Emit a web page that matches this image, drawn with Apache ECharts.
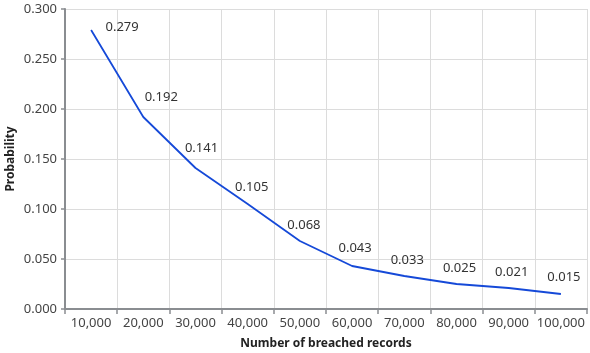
<!DOCTYPE html>
<html><head><meta charset="utf-8">
<script src="https://cdn.jsdelivr.net/npm/echarts@6/dist/echarts.min.js"></script>
<style>html,body{margin:0;padding:0;background:#fff}#c{width:590px;height:353px}</style>
</head><body><div id="c"></div>
<script>
const categories = ['10,000','20,000','30,000','40,000','50,000','60,000','70,000','80,000','90,000','100,000'];
const probability = [0.279,0.192,0.141,0.105,0.068,0.043,0.033,0.025,0.021,0.015];
const labelOffsets = [[31,4],[18,-13],[6,-13],[4,-10],[4,-9],[3,-11],[3,-9],[3,-9],[3,-9],[3,-10]];
const FONT = 'Noto Sans';
const chart = echarts.init(document.getElementById('c'));
chart.setOption({
  animation:false,
  grid:{left:65,right:3,top:9,bottom:44,containLabel:false,outerBoundsMode:'none'},
  xAxis:{type:'category',data:categories,boundaryGap:true,
    name:'Number of breached records',nameLocation:'middle',nameGap:29,
    nameTextStyle:{fontFamily:FONT,fontSize:12,fontWeight:'bold',color:'#222'},
    axisLine:{lineStyle:{color:'#8a8d91',width:2}},
    axisTick:{show:true,length:5,lineStyle:{color:'#8a8d91',width:1.5}},
    axisLabel:{fontFamily:FONT,fontSize:13,color:'#444',margin:8,interval:0,hideOverlap:false},
    splitLine:{show:true,interval:0,lineStyle:{color:'#dcdcdc',width:1}}},
  yAxis:{type:'value',min:0,max:0.3,interval:0.05,
    name:'Probability',nameLocation:'middle',nameGap:48,nameMoveOverlap:false,
    nameTextStyle:{fontFamily:FONT,fontSize:12,fontWeight:'bold',color:'#222'},
    axisLine:{show:true,lineStyle:{color:'#8a8d91',width:2}},
    axisTick:{show:true,length:4,lineStyle:{color:'#8a8d91',width:1.5}},
    axisLabel:{fontFamily:FONT,fontSize:13,color:'#444',margin:8,formatter:v=>v.toFixed(3)},
    splitLine:{show:true,lineStyle:{color:'#dcdcdc',width:1}}},
  series:[{type:'line',
    data:probability.map((v,i)=>({value:v,label:{offset:labelOffsets[i]}})),
    symbol:'circle',symbolSize:1,showSymbol:true,
    itemStyle:{color:'rgba(0,0,0,0)'},
    lineStyle:{color:'#1549d8',width:1.8},
    label:{show:true,position:'top',distance:0,fontFamily:FONT,fontSize:13,color:'#333',
      formatter:p=>p.value.toFixed(3)}}]
});
</script></body></html>
